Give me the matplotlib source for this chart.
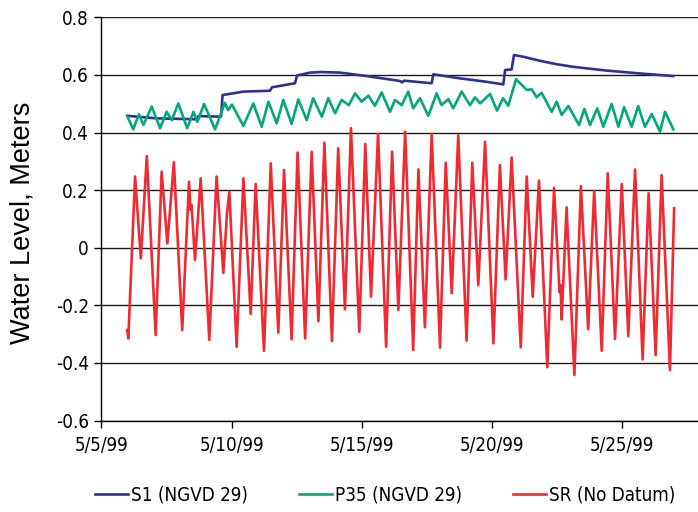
import matplotlib
matplotlib.use("Agg")
import matplotlib.pyplot as plt
import matplotlib.dates as mdates
from matplotlib import font_manager
from matplotlib.font_manager import FontProperties
from matplotlib.ticker import FixedLocator, FuncFormatter
from datetime import datetime
import numpy as np

# ---------------- data (day of May 1999, water level in m) ----------------
s1_day = [5.99, 7.12, 8.66, 8.72, 9.59, 9.65, 10.45, 11.47, 11.55, 12.43, 12.51,
          13.01, 13.39, 14.16, 15.18, 16.46, 16.54, 16.62, 17.68, 17.74, 18.77,
          19.79, 20.43, 20.50, 20.75, 20.84, 21.20, 21.84, 22.48, 23.12, 24.40,
          25.68, 26.96]
s1_level = [0.458, 0.449, 0.446, 0.457, 0.455, 0.530, 0.542, 0.545, 0.557, 0.571, 0.598,
            0.608, 0.610, 0.608, 0.596, 0.579, 0.574, 0.580, 0.571, 0.602, 0.588,
            0.576, 0.567, 0.617, 0.619, 0.669, 0.663, 0.649, 0.637, 0.628, 0.615,
            0.605, 0.596]

p35_day = [5.99, 6.22, 6.44, 6.61, 6.93, 7.25, 7.50, 7.70, 7.95, 8.29, 8.53, 8.68,
           8.94, 9.36, 9.74, 9.86, 10.01, 10.45, 10.83, 11.15, 11.41, 11.73, 11.98,
           12.30, 12.56, 12.88, 13.13, 13.46, 13.71, 13.97, 14.22, 14.50, 14.74,
           14.99, 15.25, 15.50, 15.76, 16.08, 16.27, 16.53, 16.78, 16.97, 17.23,
           17.55, 17.87, 18.06, 18.32, 18.51, 18.83, 19.15, 19.34, 19.54, 19.92,
           20.19, 20.42, 20.62, 20.92, 21.14, 21.33, 21.52, 21.71, 21.90, 22.29,
           22.48, 22.67, 22.93, 23.34, 23.54, 23.76, 24.04, 24.27, 24.59, 24.85,
           25.07, 25.36, 25.61, 25.87, 26.13, 26.45, 26.64, 26.96]
p35_level = [0.457, 0.411, 0.464, 0.426, 0.490, 0.415, 0.472, 0.443, 0.501, 0.415,
             0.472, 0.437, 0.499, 0.411, 0.503, 0.478, 0.497, 0.423, 0.501, 0.420,
             0.507, 0.432, 0.513, 0.430, 0.515, 0.443, 0.519, 0.455, 0.519, 0.467,
             0.513, 0.495, 0.536, 0.507, 0.528, 0.493, 0.539, 0.472, 0.513, 0.495,
             0.542, 0.484, 0.519, 0.458, 0.536, 0.495, 0.516, 0.484, 0.542, 0.495,
             0.522, 0.501, 0.534, 0.476, 0.519, 0.493, 0.585, 0.565, 0.548, 0.550,
             0.522, 0.538, 0.472, 0.507, 0.461, 0.492, 0.426, 0.482, 0.426, 0.484,
             0.420, 0.499, 0.420, 0.488, 0.420, 0.492, 0.420, 0.464, 0.403, 0.472,
             0.411]

sr_day = [5.99, 6.03, 6.29, 6.51, 6.74, 7.08, 7.31, 7.53, 7.78, 8.10, 8.36, 8.42,
          8.46, 8.59, 8.81, 9.14, 9.42, 9.68, 9.82, 9.91, 10.19, 10.45, 10.73,
          10.92, 11.24, 11.50, 11.79, 12.01, 12.30, 12.53, 12.82, 13.07, 13.33,
          13.56, 13.85, 14.09, 14.35, 14.58, 14.90, 15.13, 15.35, 15.62, 15.93,
          16.16, 16.40, 16.66, 16.97, 17.17, 17.42, 17.68, 18.00, 18.22, 18.45,
          18.70, 19.02, 19.24, 19.47, 19.73, 20.05, 20.30, 20.52, 20.75, 21.10,
          21.33, 21.56, 21.80, 22.12, 22.38, 22.59, 22.63, 22.67, 22.86, 23.16,
          23.41, 23.69, 23.92, 24.21, 24.44, 24.72, 24.98, 25.23, 25.49, 25.78,
          26.01, 26.28, 26.51, 26.83, 26.99]
sr_level = [-0.286, -0.315, 0.247, -0.037, 0.318, -0.303, 0.264, 0.015, 0.297,
            -0.286, 0.229, 0.131, 0.148, -0.043, 0.241, -0.320, 0.247, -0.087,
            0.120, 0.194, -0.344, 0.241, -0.230, 0.221, -0.358, 0.293, -0.295,
            0.270, -0.318, 0.330, -0.315, 0.333, -0.255, 0.365, -0.324, 0.345,
            -0.214, 0.415, -0.292, 0.360, -0.170, 0.395, -0.344, 0.333, -0.216,
            0.403, -0.355, 0.272, -0.276, 0.395, -0.347, 0.295, -0.158, 0.391,
            -0.323, 0.295, -0.130, 0.368, -0.332, 0.287, -0.110, 0.313, -0.346,
            0.247, -0.170, 0.233, -0.415, 0.208, -0.154, -0.130, -0.249, 0.140,
            -0.442, 0.214, -0.283, 0.197, -0.358, 0.258, -0.317, 0.221, -0.307,
            0.272, -0.388, 0.189, -0.373, 0.252, -0.425, 0.137]

series_names = ["S1 (NGVD 29)", "P35 (NGVD 29)", "SR (No Datum)"]
series_colors = ["#2e3192", "#00a67e", "#ee2a32"]
xtick_days = [5, 10, 15, 20, 25]
ytick_values = [-0.6, -0.4, -0.2, 0.0, 0.2, 0.4, 0.6, 0.8]
ytick_labels = ["-0.6", "-0.4", "-0.2", "0", "0.2", "0.4", "0.6", "0.8"]
y_title = "Water Level, Meters"

# ---------------- fonts ----------------
names = {f.name for f in font_manager.fontManager.ttflist}
if "Liberation Sans Narrow" in names:
    narrow = FontProperties(family="Liberation Sans Narrow", size=15)
else:
    narrow = FontProperties(family="DejaVu Sans", stretch="condensed", size=13.5)
label_font = FontProperties(family="Liberation Sans" if "Liberation Sans" in names else "DejaVu Sans", size=19.5)

may1 = mdates.date2num(datetime(1999, 5, 1))
def to_num(days):
    return may1 + np.asarray(days, dtype=float) - 1.0

fig = plt.figure(figsize=(6.98, 5.12), dpi=100)
ax = fig.add_axes([0.1454, 0.1787, 0.8546, 0.7875])

lines = []
for d, v, c, n in zip([s1_day, p35_day, sr_day], [s1_level, p35_level, sr_level],
                      series_colors, series_names):
    ln, = ax.plot(to_num(d), v, color=c, lw=1.9, label=n, solid_joinstyle="round")
    lines.append(ln)

ax.set_xlim(to_num([5.0])[0], to_num([5.0 + 22.907])[0])
ax.set_ylim(-0.6, 0.8)

ax.xaxis.set_major_locator(FixedLocator(to_num(xtick_days)))
def fmt(x, pos):
    dt = mdates.num2date(x)
    return f"{dt.month}/{dt.day}/{dt.strftime('%y')}"
ax.xaxis.set_major_formatter(FuncFormatter(fmt))
ax.set_yticks(ytick_values)
ax.set_yticklabels(ytick_labels)

for lab in ax.get_xticklabels() + ax.get_yticklabels():
    lab.set_fontproperties(narrow)

ax.tick_params(axis="both", direction="out", length=5, width=1, color="black")
ax.tick_params(axis="x", pad=6)
ax.tick_params(axis="y", pad=4)

ax.yaxis.grid(True, color="#1a1a1a", lw=1.0)
ax.set_axisbelow(True)
for s in ["top", "right"]:
    ax.spines[s].set_visible(False)
for s in ["left", "bottom"]:
    ax.spines[s].set_color("black")
    ax.spines[s].set_linewidth(1.0)

ax.set_ylabel(y_title, fontproperties=label_font, va="center")
ax.yaxis.set_label_coords(-0.133, 0.49)

fig.legend(lines, series_names, loc="center", bbox_to_anchor=(0.552, 0.033),
           ncol=3, frameon=False, prop=narrow, handlelength=1.75,
           handletextpad=0.15, columnspacing=2.75)

fig.savefig("out.png", dpi=100)
